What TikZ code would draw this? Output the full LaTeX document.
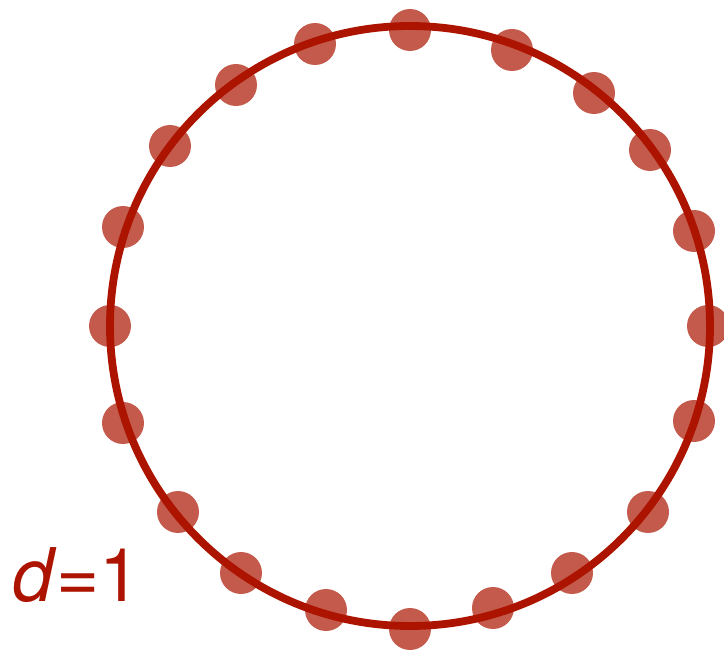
\documentclass[tikz,border=0pt]{standalone}
\usepackage{fontspec}
\setmainfont{TeX Gyre Heros}
\definecolor{ringred}{RGB}{172,20,0}
\definecolor{dotred}{RGB}{196,90,76}
\begin{document}
\begin{tikzpicture}[x=1pt,y=-1pt,
  dotstyle/.style={circle,fill=dotred,draw=none,minimum size=42pt,inner sep=0pt},
  ringstyle/.style={draw=ringred,line width=7.8pt}]
\useasboundingbox (0,0) rectangle (724,650);
\foreach \x/\y [count=\i] in {410/30,512/50,594/93,650/150,694/231,708/326,694/421,648/512,572/573,493/608,410/629,326/610,241/573,178/512,123/423,110/326,123/227,170/146,236/85,315/44}
  \node[dotstyle] (p\i) at (\x,\y) {};
\coordinate (c) at (410,326);
\draw[ringstyle] (c) circle[radius=300];
\node[anchor=base west,inner sep=0pt,text=ringred,font=\fontsize{74}{74}\selectfont] (lbl) at (12,601) {\textit{d}=1};
\end{tikzpicture}
\end{document}
